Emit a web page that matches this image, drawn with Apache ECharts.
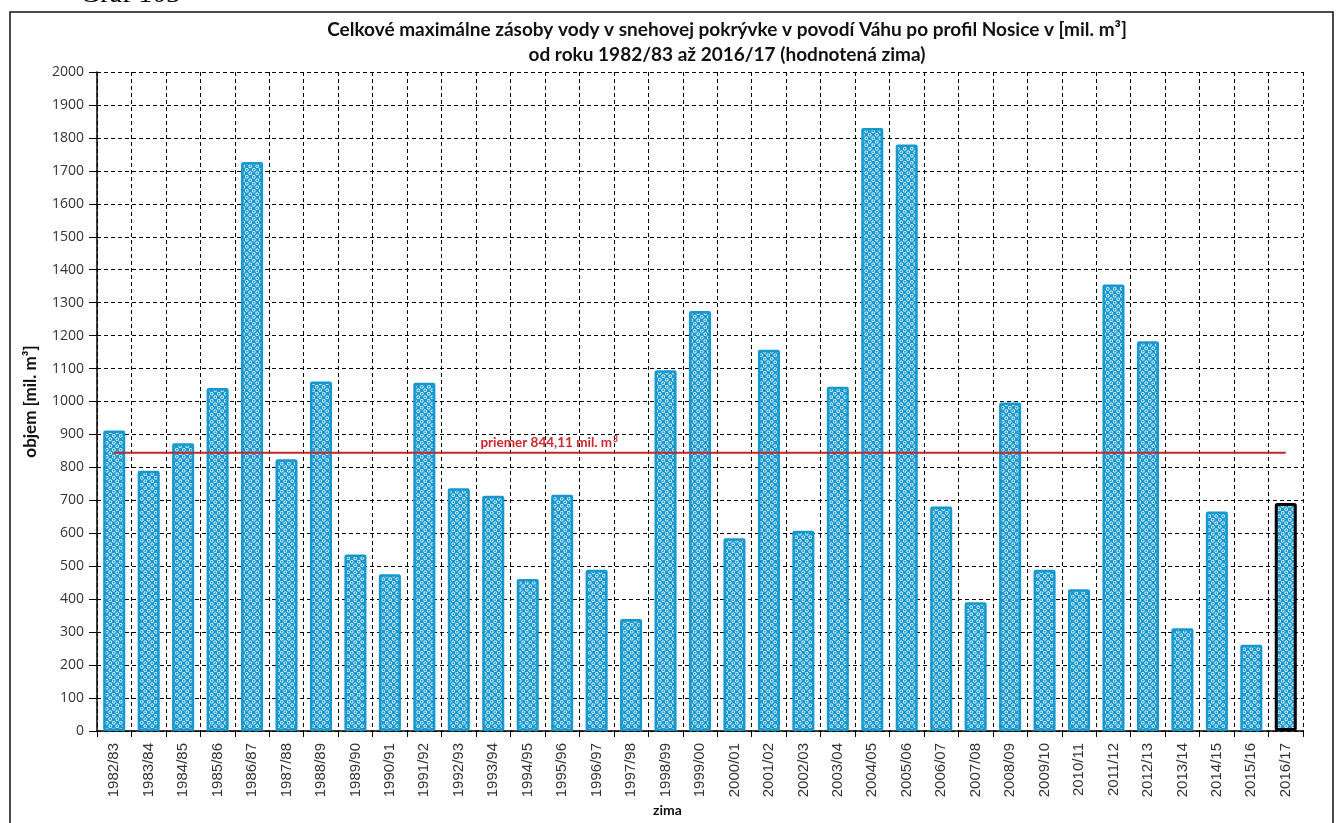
<!DOCTYPE html>
<html>
<head>
<meta charset="utf-8">
<script src="https://cdn.jsdelivr.net/npm/echarts@6/dist/echarts.min.js"></script>
<style>
  html, body { margin: 0; padding: 0; background: #fff; }
  #chart { width: 1340px; height: 823px; }
</style>
</head>
<body>
<div id="chart"></div>
<script>
// Winters (hydrological seasons)
const winters = [
  '1982/83','1983/84','1984/85','1985/86','1986/87','1987/88','1988/89','1989/90',
  '1990/91','1991/92','1992/93','1993/94','1994/95','1995/96','1996/97','1997/98',
  '1998/99','1999/00','2000/01','2001/02','2002/03','2003/04','2004/05','2005/06',
  '2006/07','2007/08','2008/09','2009/10','2010/11','2011/12','2012/13','2013/14',
  '2014/15','2015/16','2016/17'
];

// Maximum snow water storage [mil. m3]
const snowVolume = [
  912, 790, 873, 1041, 1727, 825, 1061, 536,
  476, 1057, 737, 714, 461, 717, 489, 340,
  1095, 1275, 585, 1157, 608, 1045, 1830, 1780,
  681, 391, 997, 489, 430, 1355, 1183, 312,
  666, 262, 692
];

// Long-term mean
const meanValue = 844.11;
const meanLabel = 'priemer 844,11 mil. m';

const yTicks = { min: 0, max: 2000, step: 100 };

// Blue fill with small white rings in a staggered lattice
function makePattern() {
  const s = 7;
  const c = document.createElement('canvas');
  c.width = s; c.height = s;
  const g = c.getContext('2d');
  g.fillStyle = '#1a98d0';
  g.fillRect(0, 0, s, s);
  g.strokeStyle = 'rgba(255,255,255,0.92)';
  g.lineWidth = 1;
  [[1.75, 1.75], [5.25, 5.25]].forEach(function (p) {
    g.beginPath();
    g.arc(p[0], p[1], 1.45, 0, Math.PI * 2);
    g.stroke();
  });
  return c;
}
const pattern = makePattern();

const lastIdx = winters.length - 1;
const barData = snowVolume.map(function (v, i) {
  if (i === lastIdx) {
    return { value: v, itemStyle: { borderColor: '#000', borderWidth: 3 } };
  }
  return v;
});

const meanData = winters.map(function () { return meanValue; });

// Label of the mean line, anchored on one winter
const labelIdx = 13;

const chart = echarts.init(document.getElementById('chart'), null, { renderer: 'canvas' });

chart.setOption({
  animation: false,
  backgroundColor: '#fff',
  textStyle: { fontFamily: 'Lato, "Open Sans", sans-serif' },
  title: {
    text: 'Celkové maximálne zásoby vody v snehovej pokrývke v povodí Váhu po profil Nosice v [mil. m³]\nod roku 1982/83 až 2016/17 (hodnotená zima)',
    left: 722,
    top: 12,
    textAlign: 'center',
    textStyle: { fontFamily: 'Lato', fontWeight: 'bold', fontSize: 19, color: '#111', lineHeight: 25 }
  },
  grid: { left: 97, right: 37, top: 72, bottom: 92 },
  xAxis: {
    type: 'category',
    data: winters,
    boundaryGap: true,
    axisLine: { lineStyle: { color: '#000', width: 1.5 } },
    axisTick: { show: true, alignWithLabel: false, length: 6, lineStyle: { color: '#000' } },
    axisLabel: { interval: 0, rotate: 90, margin: 12, fontSize: 15, color: '#333', fontFamily: '"Liberation Sans", Arial, sans-serif' },
    splitLine: { show: true, interval: 0, lineStyle: { color: '#000', type: [4, 3], width: 1 } }
  },
  yAxis: {
    type: 'value',
    min: yTicks.min,
    max: yTicks.max,
    interval: yTicks.step,
    name: 'objem [mil. m³]',
    nameLocation: 'middle',
    nameGap: 58,
    nameRotate: 90,
    nameTextStyle: { fontFamily: 'Lato', fontWeight: 'bold', fontSize: 17, color: '#111' },
    axisLine: { show: true, lineStyle: { color: '#000', width: 1.5 } },
    axisTick: { show: true, length: 8, inside: false, lineStyle: { color: '#000' } },
    axisLabel: {
      fontSize: 14, color: '#333', margin: 13, fontFamily: '"Open Sans", sans-serif',
      formatter: function (v) { return String(v); }
    },
    splitLine: { show: true, lineStyle: { color: '#000', type: [4, 3], width: 1 } }
  },
  series: [
    {
      type: 'bar',
      data: barData,
      barWidth: '64%',
      itemStyle: {
        color: { image: pattern, repeat: 'repeat' },
        borderColor: '#1597d0',
        borderWidth: 2.5,
        borderRadius: 1
      },
      z: 2
    },
    {
      type: 'line',
      data: meanData,
      symbol: 'none',
      lineStyle: { color: '#c0282d', width: 2 },
      z: 3,
      markPoint: {
        symbol: 'circle',
        symbolSize: 1,
        itemStyle: { color: 'rgba(0,0,0,0)' },
        silent: true,
        data: [{ coord: [labelIdx, meanValue] }],
        label: {
          show: true,
          position: 'top',
          distance: 2,
          offset: [-13, 0],
          formatter: '{a|' + meanLabel + '}{s|3}',
          rich: {
            a: { color: '#d0262b', fontSize: 13.5, fontFamily: 'Lato', fontWeight: 'bold' },
            s: { color: '#d0262b', fontSize: 8.5, fontFamily: 'Lato', fontWeight: 'bold', verticalAlign: 'top', padding: [0, 0, 7, 1] }
          }
        }
      }
    }
  ],
  graphic: [
    {
      type: 'rect',
      shape: { x: 10, y: 12, width: 1323, height: 900 },
      style: { fill: 'none', stroke: '#111', lineWidth: 1.5 },
      silent: true
    },
    {
      type: 'text',
      left: 80,
      top: -19,
      style: { text: 'Graf 103', font: '28px "Liberation Serif", serif', fill: '#000' }
    },
    {
      type: 'text',
      left: 653,
      top: 803,
      style: { text: 'zima', font: 'bold 14px Lato', fill: '#111' }
    }
  ]
});
</script>
</body>
</html>
